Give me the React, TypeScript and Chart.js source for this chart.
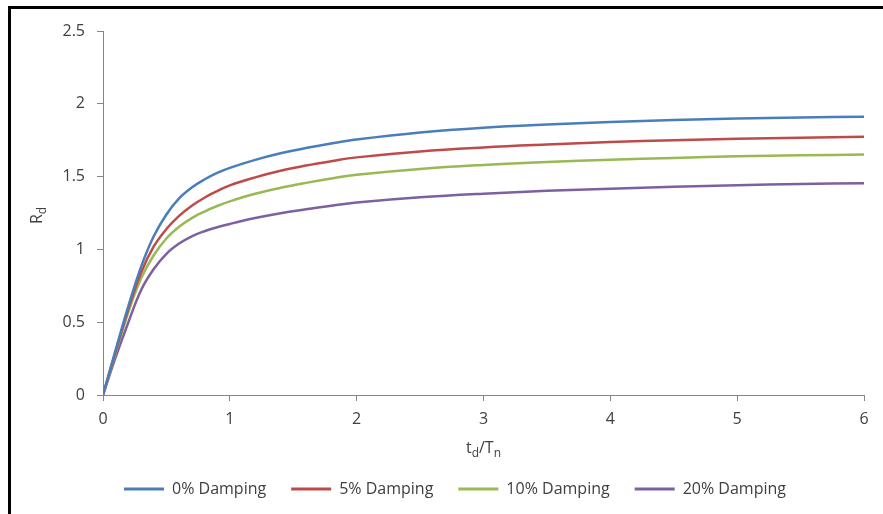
import React, { useEffect, useRef } from 'react';
import { Chart, registerables } from 'chart.js';

Chart.register(...registerables);

// t_d / T_n values (x axis)
const tdTn = [0, 0.1, 0.2, 0.3, 0.4, 0.5, 0.6, 0.7, 0.8, 0.9, 1.0, 1.2, 1.4, 1.6, 1.8, 2.0, 2.5, 3.0, 3.5, 4.0, 4.5, 5.0, 5.5, 6.0];

// R_d values for each damping ratio
const damping0 = [0, 0.31, 0.61, 0.88, 1.09, 1.24, 1.35, 1.425, 1.48, 1.525, 1.56, 1.615, 1.66, 1.697, 1.728, 1.755, 1.803, 1.836, 1.858, 1.875, 1.889, 1.899, 1.906, 1.911];
const damping5 = [0, 0.30, 0.59, 0.84, 1.02, 1.14, 1.23, 1.30, 1.355, 1.40, 1.44, 1.495, 1.54, 1.576, 1.606, 1.632, 1.673, 1.70, 1.72, 1.737, 1.75, 1.76, 1.767, 1.773];
const damping10 = [0, 0.29, 0.57, 0.80, 0.96, 1.075, 1.155, 1.215, 1.26, 1.298, 1.33, 1.382, 1.423, 1.457, 1.487, 1.513, 1.553, 1.58, 1.60, 1.615, 1.628, 1.639, 1.646, 1.652];
const damping20 = [0, 0.26, 0.50, 0.72, 0.865, 0.97, 1.04, 1.09, 1.125, 1.152, 1.175, 1.215, 1.248, 1.275, 1.30, 1.322, 1.358, 1.383, 1.402, 1.417, 1.43, 1.441, 1.449, 1.455];

const seriesNames = ['0% Damping', '5% Damping', '10% Damping', '20% Damping'];
const seriesValues = [damping0, damping5, damping10, damping20];
const seriesColors = ['#4A7EBB', '#BE4B48', '#98B954', '#7D60A0'];

const FONT = "'Open Sans', sans-serif";
const TEXT_COLOR = '#404040';
const AXIS_COLOR = '#868686';

type Part = { text: string; sub?: boolean };

function drawParts(ctx: CanvasRenderingContext2D, parts: Part[], cx: number, baseline: number) {
  const main = `16px ${FONT}`;
  const small = `12px ${FONT}`;
  let total = 0;
  const widths = parts.map((p) => {
    ctx.font = p.sub ? small : main;
    const w = ctx.measureText(p.text).width;
    total += w;
    return w;
  });
  let x = cx - total / 2;
  ctx.textAlign = 'left';
  ctx.textBaseline = 'alphabetic';
  ctx.fillStyle = TEXT_COLOR;
  parts.forEach((p, i) => {
    ctx.font = p.sub ? small : main;
    ctx.fillText(p.text, x, p.sub ? baseline + 4 : baseline);
    x += widths[i];
  });
}

const decorPlugin = {
  id: 'decor',
  beforeDraw(chart: any) {
    const ctx = chart.ctx as CanvasRenderingContext2D;
    ctx.save();
    ctx.fillStyle = '#ffffff';
    ctx.fillRect(0, 0, chart.width, chart.height);
    ctx.fillStyle = '#000000';
    ctx.fillRect(8, 6, 3, chart.height - 6);
    ctx.fillRect(8, 6, chart.width - 8, 3);
    ctx.restore();
  },
  afterDraw(chart: any) {
    const ctx = chart.ctx as CanvasRenderingContext2D;
    const area = chart.chartArea;
    ctx.save();
    // x axis title: t_d / T_n
    drawParts(ctx, [{ text: 't' }, { text: 'd', sub: true }, { text: '/T' }, { text: 'n', sub: true }], (area.left + area.right) / 2, 453);
    // y axis title: R_d (rotated)
    ctx.translate(42, 215.5);
    ctx.rotate(-Math.PI / 2);
    drawParts(ctx, [{ text: 'R' }, { text: 'd', sub: true }], 0, 0);
    ctx.restore();
  },
};

export default function App() {
  const canvasRef = useRef<HTMLCanvasElement | null>(null);

  useEffect(() => {
    if (!canvasRef.current) return;
    const datasets = seriesNames.map((name, i) => ({
      label: name,
      data: tdTn.map((x, j) => ({ x, y: seriesValues[i][j] })),
      borderColor: seriesColors[i],
      backgroundColor: seriesColors[i],
      borderWidth: 2.5,
      pointRadius: 0,
      tension: 0.4,
      fill: false,
    }));

    const chart = new Chart(canvasRef.current, {
      type: 'line',
      data: { datasets },
      options: {
        animation: false,
        responsive: true,
        maintainAspectRatio: false,
        devicePixelRatio: 1,
        font: { family: FONT, size: 16 },
        layout: { padding: { left: 27, right: 0, top: 31, bottom: 7 } },
        plugins: {
          tooltip: { enabled: false },
          title: { display: false },
          legend: {
            display: true,
            position: 'bottom',
            align: 'center',
            labels: {
              font: { family: FONT, size: 16 },
              color: TEXT_COLOR,
              boxWidth: 40,
              boxHeight: 3,
              padding: 25,
              generateLabels: (c: any) =>
                c.data.datasets.map((ds: any, i: number) => ({
                  text: ds.label,
                  fillStyle: ds.borderColor,
                  strokeStyle: ds.borderColor,
                  lineWidth: 0,
                  hidden: false,
                  datasetIndex: i,
                  fontColor: TEXT_COLOR,
                })),
            },
          },
        },
        scales: {
          x: {
            type: 'linear',
            min: 0,
            max: 6,
            ticks: { stepSize: 1, color: TEXT_COLOR, font: { family: FONT, size: 16 }, padding: 9, maxRotation: 0 },
            grid: { drawOnChartArea: false, drawTicks: true, tickLength: 6, color: AXIS_COLOR },
            border: { display: true, color: AXIS_COLOR, width: 1 },
            afterFit: (s: any) => {
              s.height = 61;
            },
          },
          y: {
            type: 'linear',
            min: 0,
            max: 2.5,
            ticks: {
              stepSize: 0.5,
              color: TEXT_COLOR,
              font: { family: FONT, size: 16 },
              padding: 12,
              callback: (v: any) => String(Number(v)),
            },
            grid: { drawOnChartArea: false, drawTicks: true, tickLength: 6, color: AXIS_COLOR },
            border: { display: true, color: AXIS_COLOR, width: 1 },
            afterFit: (s: any) => {
              s.width = 76;
            },
          },
          yRight: {
            type: 'linear',
            position: 'right',
            display: true,
            ticks: { display: false },
            grid: { display: false },
            border: { display: false },
            afterFit: (s: any) => {
              s.width = 19;
            },
          },
        },
      },
      plugins: [decorPlugin],
    });
    return () => chart.destroy();
  }, []);

  return (
    <div style={{ position: 'fixed', left: 0, top: 0, width: 883, height: 514, background: '#fff' }}>
      <canvas ref={canvasRef} />
    </div>
  );
}
